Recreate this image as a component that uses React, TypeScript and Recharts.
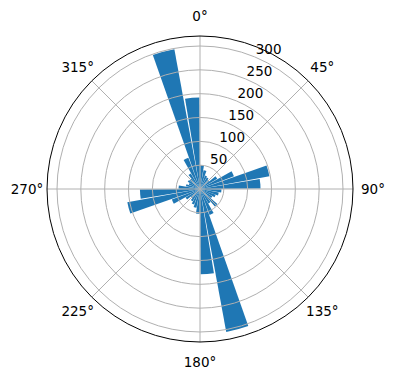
import React from "react";
import {
  RadialBarChart,
  RadialBar,
  RadarChart,
  Radar,
  PolarAngleAxis,
  PolarRadiusAxis,
  PolarGrid,
} from "recharts";

// bin centres in compass degrees (10 degree bins)
const directions = [
  5, 15, 25, 35, 45, 55, 65, 75, 85, 95, 105, 115, 125, 135, 145, 155, 165, 175,
  185, 195, 205, 215, 225, 235, 245, 255, 265, 275, 285, 295, 305, 315, 325, 335,
  345, 355,
];
const counts = [
  50, 40, 30, 28, 25, 42, 76, 148, 127, 45, 40, 35, 30, 48, 35, 58, 305, 179,
  52, 40, 35, 30, 25, 35, 63, 155, 126, 45, 30, 25, 30, 28, 38, 70, 298, 192,
];
const angleTicks = [0, 45, 90, 135, 180, 225, 270, 315];
const radiusTicks = [50, 100, 150, 200, 250, 300];
const radiusMax = 321;

const barData = directions.map((d, i) => ({ dir: d, count: counts[i] }));
const gridData = angleTicks.map((a) => ({ angle: a, base: 0 }));

const FONT = "DejaVu Sans, sans-serif";
const W = 396;
const H = 380;
const CX = 200;
const CY = 189;
const R = 153;

const AngleTick = ({ x, y, payload }: any) => (
  <text
    x={x}
    y={y}
    textAnchor="middle"
    dominantBaseline="central"
    fontSize={13.5}
    fontFamily={FONT}
    fill="#000"
  >
    {payload.value}°
  </text>
);

const RadiusTick = ({ x, y, payload }: any) => (
  <text
    x={x + 1}
    y={y - 3}
    textAnchor="start"
    fontSize={13.5}
    fontFamily={FONT}
    fill="#000"
  >
    {payload.value}
  </text>
);

const layer: React.CSSProperties = { position: "absolute", left: 0, top: 0 };

export default function App() {
  return (
    <div style={{ position: "fixed", left: 0, top: 0, width: W, height: H, background: "#fff" }}>
      <div style={layer}>
        <RadialBarChart
          width={W}
          height={H}
          data={barData}
          layout="centric"
          cx={CX}
          cy={CY}
          innerRadius={0}
          outerRadius={R}
          startAngle={80}
          endAngle={-280}
          barCategoryGap="4%"
          margin={{ top: 0, right: 0, bottom: 0, left: 0 }}
        >
          <PolarAngleAxis
            type="category"
            dataKey="dir"
            tick={false}
            tickLine={false}
            axisLine={false}
          />
          <PolarRadiusAxis
            type="number"
            domain={[0, radiusMax]}
            tick={false}
            axisLine={false}
          />
          <RadialBar dataKey="count" fill="#1f77b4" isAnimationActive={false} />
        </RadialBarChart>
      </div>
      <div style={layer}>
        {/* grid + labels drawn on top of the bars, like matplotlib */}
        <RadarChart
          width={W}
          height={H}
          data={gridData}
          cx={CX}
          cy={CY}
          innerRadius={0}
          outerRadius={R}
          startAngle={90}
          endAngle={-270}
          margin={{ top: 0, right: 0, bottom: 0, left: 0 }}
        >
          <PolarGrid gridType="circle" stroke="#b0b0b0" strokeWidth={1} />
          <PolarAngleAxis
            dataKey="angle"
            tickSize={20}
            tickLine={false}
            axisLineType="circle"
            stroke="#000"
            tick={AngleTick}
          />
          <PolarRadiusAxis
            type="number"
            domain={[0, radiusMax]}
            ticks={radiusTicks}
            angle={67.5}
            axisLine={false}
            tick={RadiusTick}
          />
          <Radar
            dataKey="base"
            fill="none"
            stroke="none"
            dot={false}
            isAnimationActive={false}
          />
        </RadarChart>
      </div>
    </div>
  );
}
